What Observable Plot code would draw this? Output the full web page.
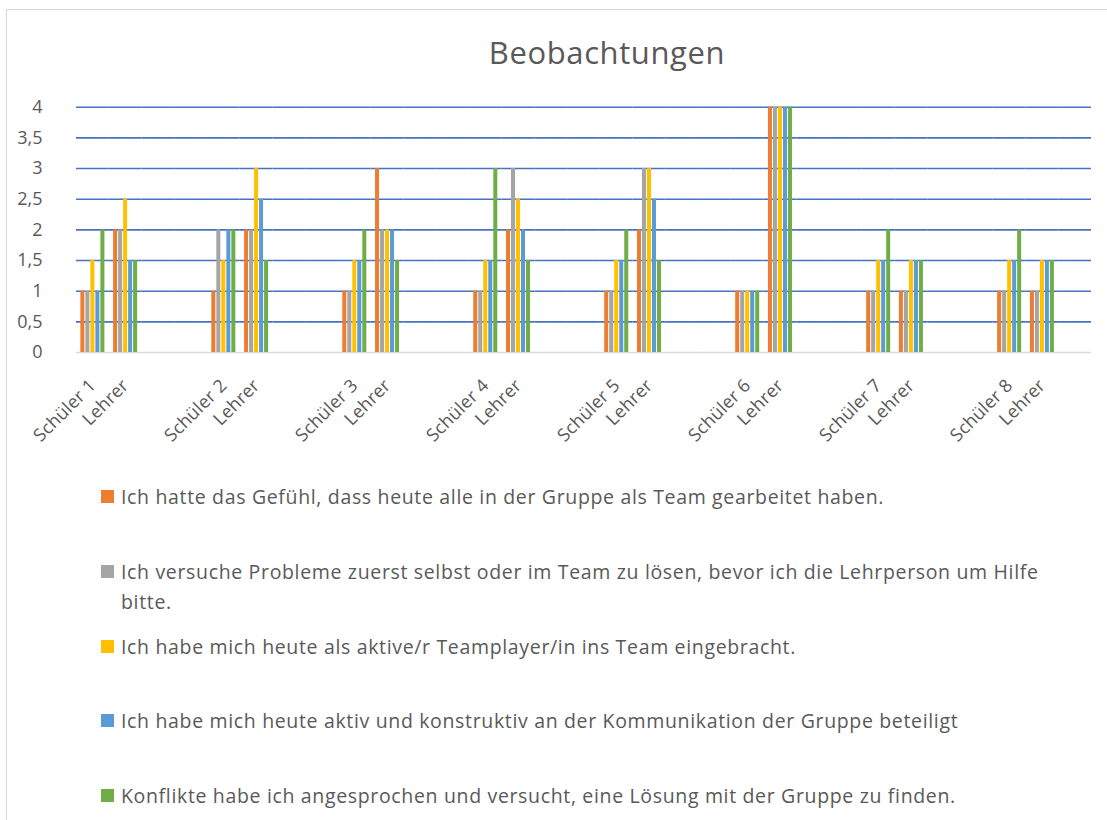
<!DOCTYPE html>
<html>
<head>
<meta charset="utf-8">
<script src="https://cdn.jsdelivr.net/npm/d3@7"></script>
<script src="https://cdn.jsdelivr.net/npm/@observablehq/plot@0.6"></script>
<style>
  body { margin: 0; background: #fff; font-family: "Open Sans", sans-serif; color: #595959; }
  #frame { position: absolute; left: 6px; top: 9px; width: 1200px; height: 900px; border-left: 1px solid #d9d9d9; border-top: 1px solid #d9d9d9; }
  #title { position: absolute; left: 0; width: 1214px; top: 30px; text-align: center; font-size: 31px; letter-spacing: 0.6px; line-height: 44px; }
  #chart { position: absolute; left: 0; top: 90px; }
  #legend { position: absolute; left: 101px; top: 482px; width: 950px; font-size: 19.5px; letter-spacing: 0.66px; }
  .item { display: flex; align-items: flex-start; height: 74.75px; }
  .sw { width: 13px; height: 13px; flex: none; margin-top: 8px; margin-right: 7px; }
  .txt { line-height: 30px; }
  .beo g[aria-label="fx-axis tick label"] { font-size: 18px; letter-spacing: 0.2px; }
  .beo g[aria-label="y-axis tick label"] { font-size: 18px; }
</style>
</head>
<body>
<div id="frame"></div>
<div id="title">Beobachtungen</div>
<div id="chart"></div>
<div id="legend"></div>
<script>
// ---- data ----
const categories = ["Schüler 1","Lehrer","Schüler 2","Lehrer","Schüler 3","Lehrer","Schüler 4","Lehrer",
                    "Schüler 5","Lehrer","Schüler 6","Lehrer","Schüler 7","Lehrer","Schüler 8","Lehrer"];
const seriesNames = [
  "Ich hatte das Gefühl, dass heute alle in der Gruppe als Team gearbeitet haben.",
  "Ich versuche Probleme zuerst selbst oder im Team zu lösen, bevor ich die Lehrperson um Hilfe bitte.",
  "Ich habe mich heute als aktive/r Teamplayer/in ins Team eingebracht.",
  "Ich habe mich heute aktiv und konstruktiv an der Kommunikation der Gruppe beteiligt",
  "Konflikte habe ich angesprochen und versucht, eine Lösung mit der Gruppe zu finden."
];
const seriesColors = ["#ED7D31", "#A5A5A5", "#FFC000", "#5B9BD5", "#70AD47"];
const gefuehl       = [1, 2,   1, 2,   1, 3,   1, 2,   1, 2,   1, 4,   1, 1,     1, 1];
const probleme      = [1, 2,   2, 2,   1, 2,   1, 3,   1, 3,   1, 4,   1, 1,     1, 1];
const aktiv         = [1.5, 2.5, 1.5, 3, 1.5, 2, 1.5, 2.5, 1.5, 3, 1, 4, 1.5, 1.5, 1.5, 1.5];
const kommunikation = [1, 1.5, 2, 2.5, 1.5, 2, 1.5, 2, 1.5, 2.5, 1, 4, 1.5, 1.5, 1.5, 1.5];
const konflikte     = [2, 1.5, 2, 1.5, 2, 1.5, 3, 1.5, 2, 1.5, 1, 4, 2, 1.5, 2, 1.5];
const yTicks = [0, 0.5, 1, 1.5, 2, 2.5, 3, 3.5, 4];

// ---- build table ----
const seriesValues = [gefuehl, probleme, aktiv, kommunikation, konflikte];
// slots: each Schüler/Lehrer pair followed by empty category slots (as in the source sheet)
const slots = [];
const slotLabel = new Map();
categories.forEach((c, i) => {
  const key = "c" + i;
  slots.push(key);
  slotLabel.set(key, c);
  if (i % 2 === 1) {
    const pair = (i - 1) / 2;
    const blanks = pair === 7 ? 1 : 2;
    for (let b = 0; b < blanks; b++) { const k = "e" + pair + "_" + b; slots.push(k); slotLabel.set(k, ""); }
  }
});
const rows = [];
categories.forEach((c, i) => {
  seriesNames.forEach((s, j) => rows.push({slot: "c" + i, series: s, value: seriesValues[j][i]}));
});
const grid = [];
slots.forEach(k => yTicks.forEach(v => grid.push({slot: k, v})));

const chart = Plot.plot({
  className: "beo",
  width: 1107,
  height: 370,
  marginLeft: 76,
  marginRight: 16,
  marginTop: 16.7,
  marginBottom: 108,
  facet: {marginTop: 0, marginRight: 0, marginBottom: 0, marginLeft: 0},
  style: {fontFamily: "Open Sans, sans-serif", fontSize: "17px", color: "#595959", background: "transparent"},
  fx: {domain: slots, padding: 0, round: false, tickRotate: -45, tickSize: 0, tickPadding: 30,
       tickFormat: k => slotLabel.get(k), label: null},
  x: {domain: seriesNames, paddingInner: 0.2, paddingOuter: 0.87, round: false, axis: null},
  y: {domain: [0, 4], axis: null},
  color: {domain: seriesNames, range: seriesColors},
  marks: [
    Plot.axisY({ticks: yTicks, tickFormat: d => String(d).replace(".", ","), tickSize: 0, tickPadding: 21, dx: -13, label: null}),
    Plot.ruleY(grid.filter(d => d.v > 0), {fx: "slot", y: "v", stroke: "#4472C4", strokeWidth: 1.6}),
    Plot.ruleY(grid.filter(d => d.v === 0), {fx: "slot", y: "v", stroke: "#d9d9d9", strokeWidth: 1.5}),
    Plot.barY(rows, {fx: "slot", x: "series", y: "value", fill: "series"})
  ]
});
document.getElementById("chart").appendChild(chart);

// ---- legend ----
const legend = document.getElementById("legend");
seriesNames.forEach((s, j) => {
  const item = document.createElement("div");
  item.className = "item";
  const sw = document.createElement("div");
  sw.className = "sw";
  sw.style.background = seriesColors[j];
  const t = document.createElement("div");
  t.className = "txt";
  t.textContent = s;
  item.appendChild(sw); item.appendChild(t);
  legend.appendChild(item);
});
</script>
</body>
</html>
